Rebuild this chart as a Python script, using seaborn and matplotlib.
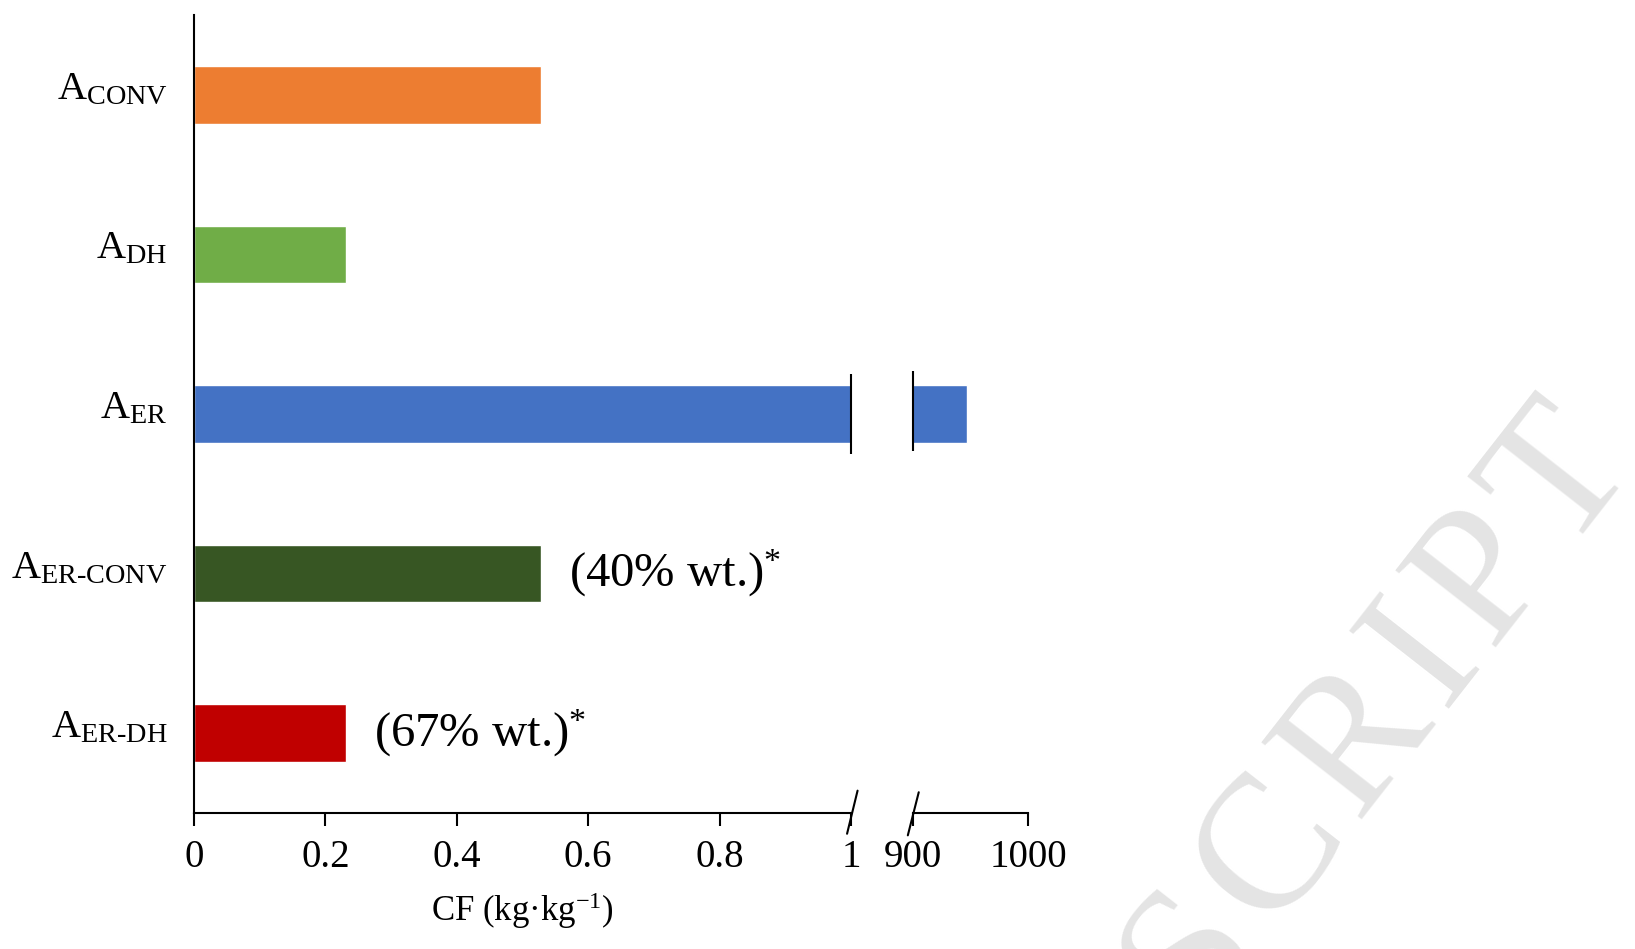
import numpy as np
import pandas as pd
import matplotlib
matplotlib.use("Agg")
import matplotlib.pyplot as plt
import matplotlib.transforms as mtransforms
from matplotlib.font_manager import FontProperties
import seaborn as sns

# data
categories = [r"A$_{\text{CONV}}$", r"A$_{\text{DH}}$", r"A$_{\text{ER}}$",
              r"A$_{\text{ER-CONV}}$", r"A$_{\text{ER-DH}}$"]
cf_values = [0.528, 0.232, 947, 0.528, 0.232]
bar_colors = ["#ED7D31", "#70AD47", "#4472C4", "#375623", "#C00000"]
notes = {3: "(40% wt.)$^{*}$", 4: "(67% wt.)$^{*}$"}
left_ticks = [0, 0.2, 0.4, 0.6, 0.8, 1]
left_ticklabels = ["0", "0.2", "0.4", "0.6", "0.8", "1"]
right_ticks = [900, 1000]
watermark = "SCRIPT"

sns.set_theme(style="white")
plt.rcParams["font.family"] = ["Liberation Serif", "DejaVu Serif"]
plt.rcParams["mathtext.fontset"] = "custom"
plt.rcParams["mathtext.rm"] = "Liberation Serif"
plt.rcParams["mathtext.it"] = "Liberation Serif:italic"
plt.rcParams["mathtext.bf"] = "Liberation Serif:bold"
for key in ["text.color", "axes.labelcolor", "xtick.color", "ytick.color"]:
    plt.rcParams[key] = "black"

df = pd.DataFrame({"cat": categories, "cf": cf_values})

W, H = 1635, 949
fig = plt.figure(figsize=(W / 100, H / 100), dpi=100)
ax1 = fig.add_axes([194 / W, 136 / H, 657 / W, 798 / H])
ax2 = fig.add_axes([913 / W, 136 / H, 115 / W, 798 / H], sharey=ax1)

for ax in (ax1, ax2):
    sns.barplot(data=df, x="cf", y="cat", hue="cat", palette=bar_colors,
                orient="h", width=0.36, legend=False, ax=ax, saturation=1)
    ax.set_facecolor("none")
    for s in ["top", "right"]:
        ax.spines[s].set_visible(False)
    ax.spines["bottom"].set_color("black")
    ax.spines["bottom"].set_linewidth(1.5)
    ax.tick_params(axis="x", direction="out", length=9, width=1.5,
                   color="black", labelcolor="black", labelsize=28, pad=10,
                   bottom=True)
    ax.set_ylabel("")
    ax.set_xlabel("")

ax1.set_xlim(0, 1)
ax2.set_xlim(900, 1000)
ax1.set_ylim(4.5, -0.5)
ax1.set_xticks(left_ticks)
ax1.set_xticklabels(left_ticklabels)
ax2.set_xticks(right_ticks)
ax2.set_xticklabels([str(t) for t in right_ticks])

ax1.spines["left"].set_color("black")
ax1.spines["left"].set_linewidth(1.5)
ax1.tick_params(axis="y", length=0, labelsize=29, pad=19, labelcolor="black")
ax2.spines["left"].set_visible(False)
ax2.tick_params(axis="y", left=False, labelleft=False)

# nudge category labels up a little, like the original
shift = mtransforms.ScaledTranslation(0, 7 / 72, fig.dpi_scale_trans)
for lab in ax1.get_yticklabels():
    lab.set_transform(lab.get_transform() + shift)

ax1.set_xlabel("CF (kg·kg$^{-1}$)", fontsize=25, labelpad=10, color="black")

# break markers on the A_ER bar and the x axis
i_er = 2
ax1.vlines(1, i_er - 0.25, i_er + 0.25, color="black", lw=1.5, clip_on=False)
ax2.vlines(900, i_er - 0.27, i_er + 0.23, color="black", lw=1.5, clip_on=False)
kw = dict(color="black", lw=1.5, clip_on=False)
ax1.plot([0.994, 1.010], [-0.026, 0.028], transform=ax1.transAxes, **kw)
ax2.plot([-0.045, 0.05], [-0.028, 0.026], transform=ax2.transAxes, **kw)

# annotations next to the bars
for idx, txt in notes.items():
    ax1.annotate(txt, xy=(cf_values[idx], idx), xytext=(20, 0),
                 textcoords="offset points", va="center", ha="left",
                 fontsize=35, color="black")

# watermark, letter by letter along a slanted baseline (slightly spaced out)
wm_size = 138
wm_angle = 52
wm_gap = 13  # px between letters
prop = FontProperties(family="Liberation Serif", size=wm_size)
renderer = fig.canvas.get_renderer()
advances = [renderer.get_text_width_height_descent(c, prop, ismath=False)[0]
            for c in watermark]
em = wm_size * 100 / 72
ux, uy = np.cos(np.radians(wm_angle)), np.sin(np.radians(wm_angle))
# the foot of the last "T" sits at about (1599, 508) in image pixels
end_x, end_y = 1599, H - 508
dist = -0.305 * em
for k in range(len(watermark) - 1, -1, -1):
    if k < len(watermark) - 1:
        dist -= advances[k] + wm_gap
    fig.text((end_x + dist * ux) / W, (end_y + dist * uy) / H, watermark[k],
             fontproperties=prop, rotation=wm_angle, rotation_mode="anchor",
             ha="left", va="baseline", color="#e4e4e4", zorder=0)

fig.savefig("out.png", dpi=100)
